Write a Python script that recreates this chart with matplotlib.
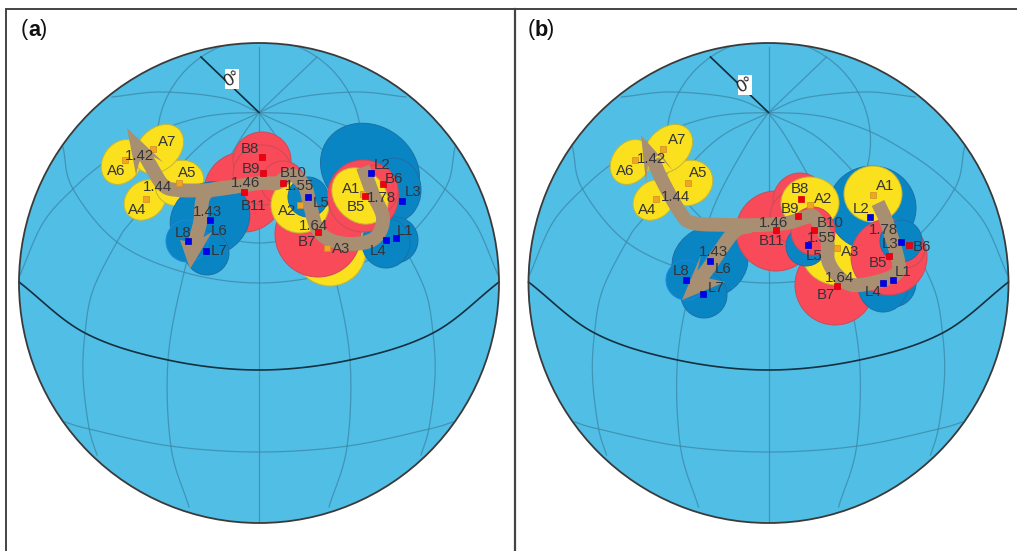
import numpy as np
import matplotlib
matplotlib.use("Agg")
import matplotlib.pyplot as plt
from matplotlib.patches import Circle, Ellipse, Polygon, Rectangle

plt.rcParams['font.family'] = ['Liberation Sans', 'DejaVu Sans']

SPHERE_COL = '#51BEE6'
FILL = {'A': '#FBE01E', 'B': '#F94A59', 'L': '#0A85C3'}
EDGE = {'A': '#C2B63C', 'B': '#C84C58', 'L': '#1B70A6'}
PT_FACE = {'A': '#F2A51E', 'B': '#EE0010', 'L': '#0000EE'}
PT_EDGE = {'A': '#C98F2A', 'B': '#D00010', 'L': '#0000C0'}
TAN = '#A98F72'
TXT = '#333338'

# sphere geometry, one per panel
centers_x = [259.0, 768.5]
center_y = 283.0
radius = 240.0

# graticule offsets relative to panel centre (dx, y); rings listed left half, mirrored when drawn
ring2 = [(-196, 147), (-186, 189), (-142, 242), (-76, 272), (0, 283)]
ring3 = [(-194, 422), (-170, 429), (-89, 446), (0, 452)]
equator = [(-240, 282), (-174, 333), (-91, 360), (0, 370)]
mer_top = [(-147, 97), (-97, 92), (-36, 98), (0, 112.5)]
mer_arc = [(-239, 275), (-216, 223), (-186, 189), (-154, 162), (-109, 135), (-69, 120), (-36, 114), (0, 112.5)]
mer_4 = [(0, 112.5), (-56, 143), (-124, 217), (-142, 242), (-166, 290), (-174, 333), (-176, 377), (-170, 428), (-162, 455)]
mer_5 = [(0, 112.5), (-21, 143), (-54, 205), (-76, 277), (-91, 360), (-88, 447), (-70, 507)]
mer_up = [(0, 112.5), (58, 57)]
mer_vert = [(0, 47), (0, 523)]
black_meridian = [(0, 112.5), (-58, 57)]
ring1_dy = 141.0
ring1_r = 102.0

# blobs drawn in list order: name, cx, cy, long axis, short axis, screen tilt
blobs_a = [
    ('A3', 330, 250, 72, 72, 0), ('L2', 370, 170, 104, 88, 35), ('L3', 394, 190, 54, 64, 0),
    ('L1', 395, 240, 46, 46, 0), ('L4', 386, 243, 48, 50, 0),
    ('B7', 318, 234, 86, 86, 0), ('B11', 244, 192, 80, 80, 0), ('B8', 262, 160, 58, 56, 0),
    ('B9', 263, 175, 60, 60, 0), ('B10', 283, 183, 44, 44, 0),
    ('A4', 145, 200, 45, 37, -40), ('A6', 122, 162, 48, 38, -55), ('A5', 179.5, 183, 50, 44, -30),
    ('A7', 159, 149, 56, 41, -45), ('A2', 300, 205, 58, 56, 0), ('L5', 308, 197, 40, 40, 0),
    ('B5', 363, 196, 71, 72, 0), ('B6', 375, 190, 46, 50, 0), ('A1', 360, 196, 62, 50, 45),
    ('L6', 210, 219, 82, 72, -30), ('L7', 207, 253, 44, 44, 0), ('L8', 187, 241, 42, 42, 0),
]
blobs_b = [
    ('B7', 835, 285, 80, 80, 0), ('A3', 837, 248, 74, 74, 0), ('L2', 872, 208, 88, 84, 0),
    ('L1', 893, 283, 46, 48, 0), ('L4', 883, 285, 50, 54, 0), ('A1', 873, 194, 58, 56, 0),
    ('B5', 889, 257, 76, 76, 0), ('B6', 905, 248, 40, 40, 0), ('L3', 901, 241, 42, 42, 0),
    ('A4', 654, 200, 45, 37, -40), ('A6', 631, 162, 48, 38, -55), ('A5', 688.5, 183, 50, 44, -30),
    ('A7', 668, 149, 56, 41, -45),
    ('L6', 710, 262, 78, 70, -30), ('L7', 704, 295, 46, 46, 0), ('L8', 686, 280, 40, 40, 0),
    ('B11', 776, 231, 80, 80, 0), ('B8', 800, 201, 54, 56, 0), ('B9', 798, 217, 56, 56, 0),
    ('A2', 810, 203, 58, 52, 0), ('L5', 806, 246, 40, 40, 0), ('B10', 813, 231, 44, 48, 0),
]

# site markers
points_a = {'A1': (363, 194), 'A2': (300, 205), 'A3': (327, 248), 'A4': (146, 199), 'A5': (179, 183),
            'A6': (125, 160), 'A7': (153, 149), 'B5': (365, 196), 'B6': (383, 184), 'B7': (318, 232),
            'B8': (262, 157), 'B9': (263, 173), 'B10': (283, 183), 'B11': (244, 192), 'L1': (396, 238),
            'L2': (371, 173), 'L3': (402, 201), 'L4': (386, 240), 'L5': (308, 197), 'L6': (210, 220),
            'L7': (206, 251), 'L8': (188, 241)}
points_b = {'A1': (873, 195), 'A2': (810, 205), 'A3': (837, 248), 'A4': (656, 199), 'A5': (688, 183),
            'A6': (635, 160), 'A7': (663, 149), 'B5': (889, 256), 'B6': (909, 245), 'B7': (837, 286),
            'B8': (801, 199), 'B9': (798, 216), 'B10': (814, 230), 'B11': (776, 230), 'L1': (893, 280),
            'L2': (870, 217), 'L3': (901, 242), 'L4': (883, 283), 'L5': (808, 245), 'L6': (710, 261),
            'L7': (703, 294), 'L8': (686, 280)}

# text labels
labels_a = {'A7': (167, 142), 'A6': (116, 171), 'A5': (187, 173), 'A4': (137, 210), '1.42': (140, 156),
            '1.44': (158, 187), '1.46': (245, 183), '1.43': (207, 212), 'L8': (183, 233), 'L6': (219, 231),
            'L7': (219, 251), 'B8': (250, 149), 'B9': (251, 169), 'B11': (254, 206), 'B10': (293, 173),
            '1.55': (300, 186), 'A2': (287, 211), 'L5': (321, 203), '1.64': (313, 226), 'B7': (307, 242),
            'A3': (341, 249), 'A1': (351, 189), 'B5': (356, 207), '1.78': (381, 198), 'L2': (382, 165),
            'B6': (394, 179), 'L3': (413, 192), 'L1': (405, 231), 'L4': (378, 251)}
labels_b = {'A7': (677, 140), 'A6': (625, 171), 'A5': (698, 173), 'A4': (647, 210), '1.42': (651, 159),
            '1.44': (675, 197), '1.46': (773, 223), 'B11': (772, 241), '1.43': (713, 252), 'L8': (681, 271),
            'L6': (723, 269), 'L7': (716, 288), 'B8': (800, 189), 'A2': (823, 199), 'B9': (790, 209),
            'B10': (830, 223), '1.55': (822, 238), 'L5': (814, 256), 'A3': (850, 252), '1.64': (840, 278),
            'B7': (826, 295), 'A1': (885, 186), 'L2': (861, 209), '1.78': (883, 230), 'L3': (890, 244),
            'B6': (922, 247), 'B5': (878, 263), 'L1': (903, 272), 'L4': (873, 292)}

# mean path arrows
main_a = [(363, 167), (372, 192), (383, 218), (375, 238), (353, 244), (330, 240), (317, 228), (310, 205),
          (305, 187), (292, 175), (277, 183), (260, 183), (233, 187), (210, 190), (177, 190), (163, 185),
          (152, 168), (143, 152)]
branch_a = [(238, 186), (206, 193), (200, 223), (194, 245)]
head_a1 = [(127, 128), (136, 175), (139, 163), (145, 152), (163, 162)]
head_a2 = [(190, 269), (180, 240), (190, 242), (202, 238), (212, 232)]
main_b = [(878, 203), (887, 223), (898, 260), (897, 273), (880, 281), (853, 285), (837, 275), (828, 260),
          (827, 240), (815, 218), (807, 217), (787, 223), (760, 225), (733, 225), (693, 223), (680, 212),
          (663, 182), (653, 160)]
branch_b = [(750, 226), (733, 233), (707, 270), (697, 280)]
head_b1 = [(641, 135), (646, 183), (648, 165), (660, 153), (673, 171)]
head_b2 = [(682, 300), (701, 255), (697, 273), (707, 278), (725, 282)]

panel_names = ['a', 'b']
panel_label_x = [20.7, 527.5]
zero_label = [(232, 79), (745, 85)]


def smooth(pts, n=16):
    """Catmull-Rom curve through the listed read-off points."""
    p = np.asarray(pts, float)
    if len(p) < 3:
        return p
    q = np.vstack([2 * p[0] - p[1], p, 2 * p[-1] - p[-2]])
    out = []
    for i in range(1, len(q) - 2):
        t = np.linspace(0, 1, n, endpoint=False)[:, None]
        a, b, c, d = q[i - 1], q[i], q[i + 1], q[i + 2]
        out.append(0.5 * (2 * b + (c - a) * t + (2 * a - 5 * b + 4 * c - d) * t ** 2
                          + (3 * b - a - 3 * c + d) * t ** 3))
    out.append(p[-1:])
    return np.vstack(out)


def mirrored_ring(left):
    a = np.asarray(left, float)
    return np.vstack([a, (a * [-1, 1])[-2::-1]])


fig = plt.figure(figsize=(10.17, 5.51), dpi=100, facecolor='white')
ax = fig.add_axes([0, 0, 1, 1])
ax.set_xlim(0, 1017)
ax.set_ylim(551, 0)
ax.axis('off')

# panel frames
ax.plot([6, 6, 1017], [551, 9, 9], color='#444444', lw=1.4, solid_joinstyle='miter')
ax.plot([514.5, 514.5], [9, 551], color='#444444', lw=1.6)


def draw_panel(i, blobs, points, labels, main, branch, head1, head2):
    cx = centers_x[i]
    sphere = Circle((cx, center_y), radius, fc=SPHERE_COL, ec='none', zorder=1)
    ax.add_patch(sphere)
    grid_kw = dict(color='#3C86A6', lw=0.9, alpha=0.75, zorder=2, clip_path=sphere)

    for line in (ring2, ring3):
        c = smooth(mirrored_ring(line))
        ax.plot(c[:, 0] + cx, c[:, 1], **grid_kw)
    for line in (mer_top, mer_arc, mer_4, mer_5, mer_up):
        a = np.asarray(line, float)
        for s in (a, a * [-1, 1]):
            c = smooth(s)
            ax.plot(c[:, 0] + cx, c[:, 1], **grid_kw)
    m = np.asarray(mer_vert, float)
    ax.plot(m[:, 0] + cx, m[:, 1], **grid_kw)
    ring = Circle((cx, ring1_dy), ring1_r, fc='none', ec='#3C86A6', lw=0.9, alpha=0.75, zorder=2)
    ax.add_patch(ring)
    ring.set_clip_path(sphere)

    c = smooth(mirrored_ring(equator))
    ax.plot(c[:, 0] + cx, c[:, 1], color='#14303F', lw=1.2, zorder=2.5)
    bm = np.asarray(black_meridian, float)
    ax.plot(bm[:, 0] + cx, bm[:, 1], color='#14303F', lw=1.2, zorder=2.5)
    ax.add_patch(Circle((cx, center_y), radius, fc='none', ec='#3A3A3A', lw=1.3, zorder=3))

    for k, (name, x, y, w, h, ang) in enumerate(blobs):
        kind = name[0]
        edge = '#1E86DC' if name == 'L8' else EDGE[kind]
        ax.add_patch(Ellipse((x, y), w, h, angle=ang, fc=FILL[kind], ec=edge, lw=0.7, zorder=4 + k * 0.01))

    # arrows
    for line in (branch, main):
        c = smooth(line)
        ax.plot(c[:, 0], c[:, 1], color=TAN, lw=10, solid_capstyle='butt', solid_joinstyle='round', zorder=5)
    for head in (head1, head2):
        ax.add_patch(Polygon(head, closed=True, fc=TAN, ec='none', zorder=5))

    for name, (x, y) in points.items():
        kind = name[0]
        ax.plot([x], [y], marker='s', ms=4.4, mfc=PT_FACE[kind], mec=PT_EDGE[kind], mew=0.5, ls='none', zorder=6)
    for s, (x, y) in labels.items():
        ax.text(x, y, s, fontsize=10.8, color=TXT, ha='center', va='center', zorder=7)

    # 0 degree tag
    zx, zy = zero_label[i]
    ax.add_patch(Rectangle((zx - 7, zy - 10), 14, 20, fc='white', ec='none', zorder=7))
    ax.text(zx, zy, '0°', fontsize=12.5, color='#222222', rotation=30, ha='center', va='center',
            rotation_mode='anchor', zorder=8)

    # panel letter
    x0 = panel_label_x[i]
    ax.text(x0, 30, '(', fontsize=15.7, color='#111111', ha='left', va='center')
    ax.text(x0 + 7.2, 30, panel_names[i], fontsize=15.7, color='#111111', ha='left', va='center', fontweight='bold')
    ax.text(x0 + 19.3, 30, ')', fontsize=15.7, color='#111111', ha='left', va='center')


draw_panel(0, blobs_a, points_a, labels_a, main_a, branch_a, head_a1, head_a2)
draw_panel(1, blobs_b, points_b, labels_b, main_b, branch_b, head_b1, head_b2)

fig.savefig('out.png', dpi=100)
